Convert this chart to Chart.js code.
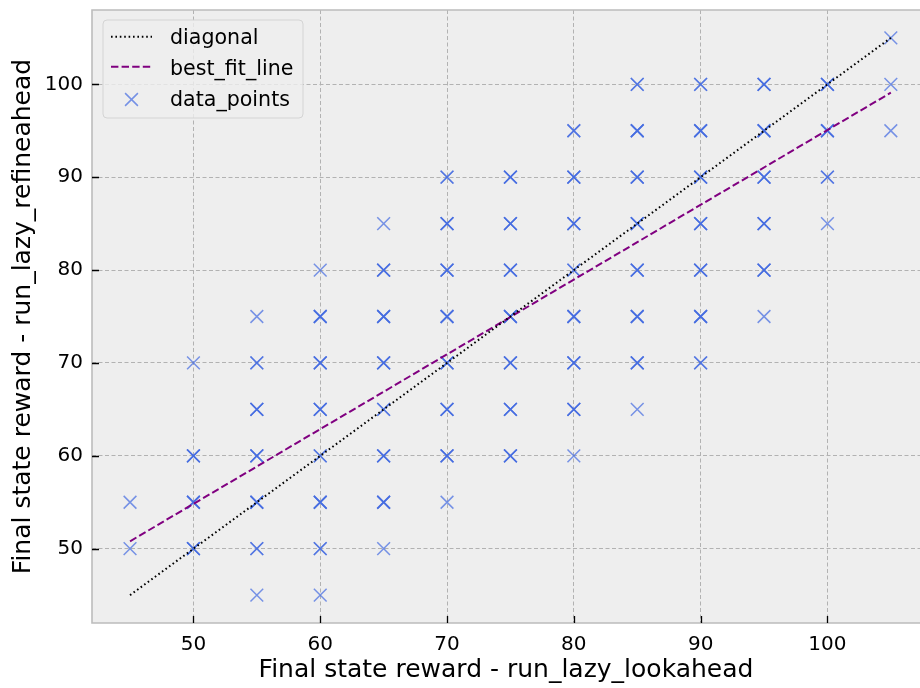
<!DOCTYPE html>
<html>
<head>
<meta charset="utf-8">
<script src="https://cdn.jsdelivr.net/npm/chart.js@4/dist/chart.umd.min.js"></script>
<style>
  html, body { margin: 0; padding: 0; background: #ffffff; }
  #wrap { width: 920px; height: 688px; position: relative; }
</style>
</head>
<body>
<div id="wrap"><canvas id="c" width="920" height="688"></canvas></div>
<script>
// ---- data ----
const xTicks = [50, 60, 70, 80, 90, 100];
const yTicks = [50, 60, 70, 80, 90, 100];

const diagX = [45, 105];
const diagY = [45, 105];

const fitX = [45, 105];
const fitY = [50.8, 99.1];

// scatter points: x, y, and how many overlapping observations (estimated from marker darkness)
const pointX = [
  45, 45,
  50, 50, 50, 50,
  55, 55, 55, 55, 55, 55, 55,
  60, 60, 60, 60, 60, 60, 60, 60,
  65, 65, 65, 65, 65, 65, 65, 65,
  70, 70, 70, 70, 70, 70, 70, 70,
  75, 75, 75, 75, 75, 75, 75,
  80, 80, 80, 80, 80, 80, 80, 80,
  85, 85, 85, 85, 85, 85, 85, 85,
  90, 90, 90, 90, 90, 90, 90,
  95, 95, 95, 95, 95, 95,
  100, 100, 100, 100,
  105, 105, 105
];
const pointY = [
  55, 50,
  70, 60, 55, 50,
  75, 70, 65, 60, 55, 50, 45,
  80, 75, 70, 65, 60, 55, 50, 45,
  85, 80, 75, 70, 65, 60, 55, 50,
  90, 85, 80, 75, 70, 65, 60, 55,
  90, 85, 80, 75, 70, 65, 60,
  95, 90, 85, 80, 75, 70, 65, 60,
  100, 95, 90, 85, 80, 75, 70, 65,
  100, 95, 90, 85, 80, 75, 70,
  100, 95, 90, 85, 80, 75,
  100, 95, 90, 85,
  105, 100, 95
];
const pointCount = [
  1, 1,
  1, 3, 3, 3,
  1, 2, 3, 3, 3, 2, 1,
  1, 3, 3, 3, 2, 3, 2, 1,
  1, 3, 3, 3, 2, 3, 3, 1,
  2, 3, 3, 3, 3, 3, 3, 1,
  3, 3, 3, 3, 3, 3, 3,
  2, 3, 3, 2, 3, 3, 3, 1,
  2, 3, 3, 3, 3, 3, 3, 1,
  2, 3, 3, 3, 3, 3, 2,
  3, 3, 3, 3, 3, 1,
  3, 3, 2, 1,
  1, 1, 1
];

const xTitle = 'Final state reward - run_lazy_lookahead';
const yTitle = 'Final state reward - run_lazy_refineahead';
const legendLabels = ['diagonal', 'best_fit_line', 'data_points'];

// ---- build datasets from arrays ----
const scatterPts = [];
pointX.forEach((x, i) => {
  for (let k = 0; k < pointCount[i]; k++) scatterPts.push({ x: x, y: pointY[i] });
});
const diagPts = diagX.map((x, i) => ({ x: x, y: diagY[i] }));
const fitPts = fitX.map((x, i) => ({ x: x, y: fitY[i] }));

const FONT = "'DejaVu Sans', sans-serif";
const BLUE = 'rgba(65,105,225,0.7)';
const DOT = [1.6, 2.8];
const DASH = [7.4, 3.2];

function noPad(s) {
  s.paddingTop = 0; s.paddingBottom = 0; s.paddingLeft = 0; s.paddingRight = 0;
}

const framePlugin = {
  id: 'mplFrame',
  beforeDraw(chart) {
    const { ctx, chartArea: a } = chart;
    ctx.save();
    ctx.fillStyle = '#ffffff';
    ctx.fillRect(0, 0, chart.width, chart.height);
    ctx.fillStyle = '#eeeeee';
    ctx.fillRect(a.left, a.top, a.right - a.left, a.bottom - a.top);
    ctx.restore();
  },
  afterDatasetsDraw(chart) {
    const { ctx, chartArea: a, scales } = chart;
    ctx.save();
    // spines (right spine falls outside the figure in the reference)
    ctx.strokeStyle = '#bcbcbc';
    ctx.lineWidth = 1.6;
    ctx.beginPath();
    ctx.moveTo(a.right + 2, a.top);
    ctx.lineTo(a.left, a.top);
    ctx.lineTo(a.left, a.bottom);
    ctx.lineTo(a.right + 2, a.bottom);
    ctx.stroke();
    // inward ticks
    ctx.strokeStyle = '#000000';
    ctx.lineWidth = 1.3;
    ctx.beginPath();
    xTicks.forEach(v => {
      const px = Math.round(scales.x.getPixelForValue(v)) + 0.5;
      ctx.moveTo(px, a.bottom);
      ctx.lineTo(px, a.bottom - 7);
    });
    yTicks.forEach(v => {
      const py = Math.round(scales.y.getPixelForValue(v)) + 0.5;
      ctx.moveTo(a.left, py);
      ctx.lineTo(a.left + 7, py);
    });
    ctx.stroke();

    // legend
    const lx = 103, ly = 20, lw = 200, lh = 98, r = 4;
    ctx.beginPath();
    ctx.moveTo(lx + r, ly);
    ctx.lineTo(lx + lw - r, ly);
    ctx.arcTo(lx + lw, ly, lx + lw, ly + r, r);
    ctx.lineTo(lx + lw, ly + lh - r);
    ctx.arcTo(lx + lw, ly + lh, lx + lw - r, ly + lh, r);
    ctx.lineTo(lx + r, ly + lh);
    ctx.arcTo(lx, ly + lh, lx, ly + lh - r, r);
    ctx.lineTo(lx, ly + r);
    ctx.arcTo(lx, ly, lx + r, ly, r);
    ctx.closePath();
    ctx.fillStyle = 'rgba(238,238,238,0.8)';
    ctx.fill();
    ctx.strokeStyle = '#d4d4d4';
    ctx.lineWidth = 1;
    ctx.stroke();

    const baselines = [44.3, 75, 106];
    // sample: diagonal
    ctx.lineWidth = 2;
    ctx.strokeStyle = '#000000';
    ctx.setLineDash(DOT);
    ctx.beginPath();
    ctx.moveTo(111, 36.7); ctx.lineTo(152, 36.7);
    ctx.stroke();
    // sample: best fit
    ctx.strokeStyle = '#800080';
    ctx.setLineDash(DASH);
    ctx.beginPath();
    ctx.moveTo(111, 66.7); ctx.lineTo(152, 66.7);
    ctx.stroke();
    ctx.setLineDash([]);
    // sample: marker
    ctx.strokeStyle = BLUE;
    ctx.lineWidth = 1.5;
    const mx = 131.5, my = 99.5, m = 6.4;
    ctx.beginPath();
    ctx.moveTo(mx - m, my - m); ctx.lineTo(mx + m, my + m);
    ctx.moveTo(mx + m, my - m); ctx.lineTo(mx - m, my + m);
    ctx.stroke();

    ctx.fillStyle = '#000000';
    ctx.font = '20.6px ' + FONT;
    ctx.textAlign = 'left';
    ctx.textBaseline = 'alphabetic';
    legendLabels.forEach((t, i) => ctx.fillText(t, 170, baselines[i]));
    ctx.restore();
  }
};

new Chart(document.getElementById('c'), {
  type: 'scatter',
  data: {
    datasets: [
      {
        label: legendLabels[0],
        data: diagPts,
        showLine: true,
        borderColor: '#000000',
        borderWidth: 2,
        borderDash: DOT,
        pointRadius: 0,
        fill: false
      },
      {
        label: legendLabels[1],
        data: fitPts,
        showLine: true,
        borderColor: '#800080',
        borderWidth: 2,
        borderDash: DASH,
        pointRadius: 0,
        fill: false
      },
      {
        label: legendLabels[2],
        data: scatterPts,
        pointStyle: 'crossRot',
        pointRadius: 9,
        pointHoverRadius: 9,
        borderColor: BLUE,
        backgroundColor: BLUE,
        pointBorderWidth: 1.5,
        borderWidth: 1.5
      }
    ]
  },
  options: {
    responsive: false,
    animation: false,
    events: [],
    layout: { autoPadding: false, padding: { top: 10, right: 0, bottom: 0, left: 0 } },
    plugins: {
      legend: { display: false },
      tooltip: { enabled: false }
    },
    scales: {
      x: {
        type: 'linear',
        min: 42,
        max: 107.3,
        afterBuildTicks: s => { s.ticks = xTicks.map(v => ({ value: v })); },
        afterFit: s => { s.height = 65; noPad(s); },
        grid: { color: '#b2b2b2', lineWidth: 1, drawTicks: false },
        border: { display: false, dash: [4, 2.5] },
        ticks: { color: '#000000', font: { family: FONT, size: 20 }, padding: 10, maxRotation: 0, autoSkip: false },
        title: { display: true, text: xTitle, color: '#000000', font: { family: FONT, size: 25 }, padding: { top: 0, bottom: 3 } }
      },
      y: {
        type: 'linear',
        min: 42,
        max: 108,
        afterBuildTicks: s => { s.ticks = yTicks.map(v => ({ value: v })); },
        afterFit: s => { s.width = 92; noPad(s); },
        grid: { color: '#b2b2b2', lineWidth: 1, drawTicks: false },
        border: { display: false, dash: [4, 2.5] },
        ticks: { color: '#000000', font: { family: FONT, size: 20 }, padding: 9, autoSkip: false },
        title: { display: true, text: yTitle, color: '#000000', font: { family: FONT, size: 25 }, padding: { top: 8, bottom: 0 } }
      }
    }
  },
  plugins: [framePlugin]
});
</script>
</body>
</html>
